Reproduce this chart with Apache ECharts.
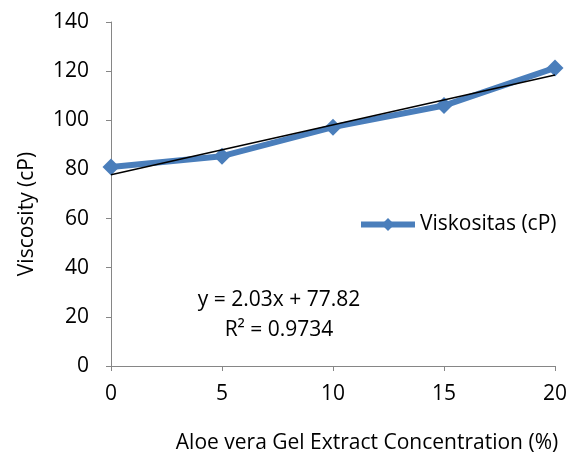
<!DOCTYPE html>
<html>
<head>
<meta charset="utf-8">
<script src="https://cdn.jsdelivr.net/npm/echarts@6/dist/echarts.min.js"></script>
<style>
  html, body { margin: 0; padding: 0; background: #fff; }
  #chart { width: 577px; height: 454px; }
</style>
</head>
<body>
<div id="chart"></div>
<script>
// concentration (%) and viscosity (cP)
const concentration = [0, 5, 10, 15, 20];
const viscosity = [81.0, 85.4, 97.2, 106.0, 121.3];
const xTicks = [0, 5, 10, 15, 20];
const yTicks = [0, 20, 40, 60, 80, 100, 120, 140];
// linear trendline as printed on the chart
const trendSlope = 2.03;
const trendIntercept = 77.82;
const trendLabel = ['y = 2.03x + 77.82', 'R\u00b2 = 0.9734'];

const font = 'Open Sans';
const fs = 21;
const chart = echarts.init(document.getElementById('chart'));

const seriesData = concentration.map((x, i) => [x, viscosity[i]]);
const x0 = xTicks[0], x1 = xTicks[xTicks.length - 1];
const trendData = [[x0, trendIntercept + trendSlope * x0], [x1, trendIntercept + trendSlope * x1]];

function txt(s, x, y, rot) {
  return {
    type: 'text', x: x, y: y, rotation: rot || 0,
    style: { text: s, fill: '#000', font: fs + 'px "Open Sans"', align: 'center', verticalAlign: 'middle' }
  };
}

const option = {
  animation: false,
  backgroundColor: '#fff',
  textStyle: { fontFamily: font },
  grid: { left: 111, right: 22, top: 22, bottom: 88 },
  xAxis: {
    type: 'value',
    min: x0, max: x1, interval: 5,
    axisLine: { lineStyle: { color: '#868686', width: 1 } },
    axisTick: { show: true, length: 5, lineStyle: { color: '#868686' } },
    splitLine: { show: false },
    axisLabel: { color: '#000', fontSize: fs, margin: 18, fontFamily: font }
  },
  yAxis: {
    type: 'value',
    min: yTicks[0], max: yTicks[yTicks.length - 1], interval: 20,
    axisLine: { show: true, lineStyle: { color: '#868686', width: 1 } },
    axisTick: { show: true, length: 5, lineStyle: { color: '#868686' } },
    splitLine: { show: false },
    axisLabel: { color: '#000', fontSize: fs, margin: 22, fontFamily: font }
  },
  legend: {
    data: ['Viskositas (cP)'],
    left: 353, top: 209,
    itemWidth: 54, itemHeight: 16, itemGap: 3,
    lineStyle: { width: 6, color: '#4a7ebb' },
    textStyle: { color: '#000', fontSize: fs, fontFamily: font }
  },
  graphic: [
    txt('Viscosity (cP)', 27, 214, Math.PI / 2),
    txt('Aloe vera Gel Extract Concentration (%)', 367, 443),
    txt(trendLabel[0], 279, 300),
    txt(trendLabel[1], 279, 330)
  ],
  series: [
    {
      name: 'Viskositas (cP)',
      type: 'line',
      data: seriesData,
      symbol: 'diamond',
      symbolSize: 17,
      lineStyle: { color: '#4a7ebb', width: 6 },
      itemStyle: { color: '#4a7ebb' },
      z: 2
    },
    {
      name: 'trend',
      type: 'line',
      data: trendData,
      symbol: 'none',
      lineStyle: { color: '#000', width: 1.5 },
      z: 3
    }
  ]
};

chart.setOption(option);
</script>
</body>
</html>
